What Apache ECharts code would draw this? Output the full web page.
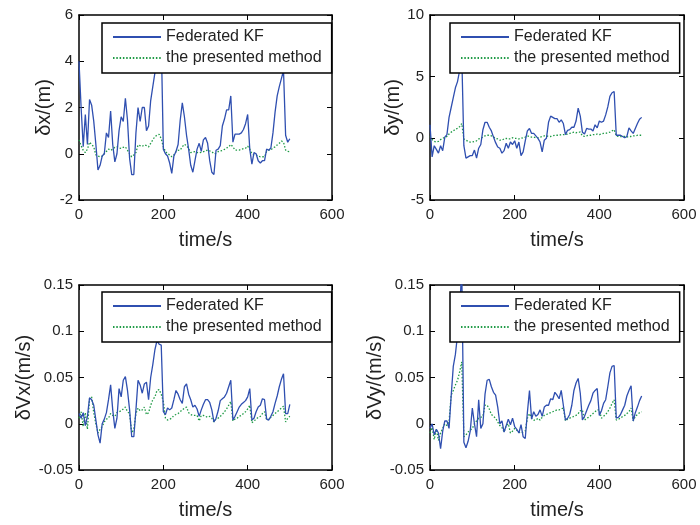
<!DOCTYPE html>
<html><head><meta charset="utf-8">
<script src="https://cdn.jsdelivr.net/npm/echarts@6/dist/echarts.min.js"></script>
<style>html,body{margin:0;padding:0;background:#fff}#c{width:700px;height:525px}</style>
</head><body><div id="c"></div><script>
const time = [0,5,10,15,20,25,30,35,40,45,50,55,60,65,70,75,80,85,90,95,100,105,110,115,120,125,130,135,140,145,150,155,160,165,170,175,180,185,190,195,200,205,210,215,220,225,230,235,240,245,250,255,260,265,270,275,280,285,290,295,300,305,310,315,320,325,330,335,340,345,350,355,360,365,370,375,380,385,390,395,400,405,410,415,420,425,430,435,440,445,450,455,460,465,470,475,480,485,490,495,500];

const seriesNames = ['Federated KF', 'the presented method'];
const xTicks = {min: 0, max: 600, interval: 200};
const yLabels = ['\u03b4x/(m)', '\u03b4y/(m)', '\u03b4Vx/(m/s)', '\u03b4Vy/(m/s)'];
const xLabel = 'time/s';

const dxFKF = [4.0,2.0,0.3,1.7,0.4,2.35,2.1,1.4,0.4,-0.7,
-0.5,-0.1,0.0,0.9,0.7,1.85,0.4,-0.35,0.0,1.0,
1.6,1.4,2.4,1.45,-0.2,-0.9,-0.9,0.9,2.0,1.4,
2.0,2.0,1.0,1.2,2.3,2.9,3.5,4.5,5.5,5.0,
0.2,0.0,-0.1,-0.4,-0.85,-0.1,0.1,0.4,1.45,2.2,
1.6,0.8,0.2,-0.5,-0.8,-0.3,0.2,0.45,0.1,0.6,
0.7,0.45,-0.3,-0.8,-0.9,0.15,0.2,0.35,1.2,1.5,
1.9,1.9,2.5,0.5,0.85,0.85,0.85,0.9,1.05,1.3,
1.7,0.2,-0.45,0.05,0.0,-0.3,-0.4,-0.3,-0.3,0.2,
0.15,0.25,0.9,1.8,2.5,2.9,3.25,3.6,0.8,0.5,
0.65];
const dxPM = [0.6,0.35,0.15,0.05,0.2,0.5,0.4,0.3,-0.05,-0.1,
-0.13,-0.1,0.0,0.1,0.2,0.15,0.2,0.28,0.3,0.25,
0.23,0.28,0.3,0.15,0.0,-0.13,-0.05,0.05,0.38,0.35,
0.32,0.38,0.35,0.3,0.45,0.6,0.74,0.8,0.84,0.65,
0.3,0.1,0.0,-0.05,-0.13,-0.05,0.09,0.15,0.16,0.3,
0.41,0.35,0.23,0.05,0.07,0.09,0.05,0.04,0.06,0.09,
0.12,0.16,0.12,0.09,0.0,0.02,0.09,0.12,0.14,0.19,
0.25,0.3,0.4,0.3,0.16,0.16,0.16,0.19,0.22,0.24,
0.33,0.2,0.0,-0.05,-0.06,-0.1,-0.13,-0.13,-0.13,0.1,
0.16,0.16,0.25,0.3,0.38,0.45,0.55,0.5,0.16,0.1,
0.09];
const dyFKF = [1.1,-1.5,-0.6,-0.9,-1.2,-0.6,-1.0,0.1,0.3,1.7,
2.5,3.3,4.1,4.6,5.5,6.8,-0.6,-1.6,-1.5,-1.4,
-1.4,-0.95,-1.6,-0.8,-0.5,0.7,1.3,1.3,0.9,0.6,
0.1,-0.35,-0.7,-0.8,-1.2,-1.0,-0.4,-0.8,-0.3,-0.5,
-0.2,-0.8,-0.3,-1.4,-1.1,-0.2,0.6,0.8,0.4,0.4,
0.2,0.0,-0.3,-1.1,-0.15,0.0,1.3,1.8,1.7,1.6,
1.6,1.3,1.5,1.2,0.3,0.65,0.7,0.9,0.9,1.4,
2.45,1.8,0.5,0.35,0.8,0.75,0.75,0.6,1.1,0.85,
1.4,1.3,1.4,1.9,2.55,3.4,3.7,3.8,0.25,0.25,
0.25,0.15,0.05,0.15,0.85,0.6,0.4,0.8,1.2,1.55,
1.7];
const dyPM = [0.15,-0.1,-0.25,-0.3,-0.25,-0.1,0.0,0.1,0.15,0.35,
0.5,0.6,0.75,0.8,0.95,1.2,-0.05,-0.15,-0.25,-0.3,
-0.3,-0.25,-0.2,-0.05,0.0,0.1,0.2,0.25,0.25,0.2,
0.1,0.0,-0.05,-0.15,-0.15,-0.05,0.0,-0.05,-0.05,0.05,
0.0,0.0,-0.05,0.0,0.05,0.1,0.2,0.15,0.1,0.1,
0.05,0.05,0.1,0.15,0.2,0.2,0.15,0.15,0.2,0.25,
0.25,0.25,0.3,0.3,0.3,0.35,0.4,0.45,0.5,0.45,
0.5,0.5,0.2,0.15,0.2,0.25,0.25,0.3,0.3,0.35,
0.3,0.35,0.4,0.4,0.45,0.5,0.6,0.7,0.2,0.15,
0.15,0.15,0.15,0.1,0.15,0.15,0.2,0.2,0.25,0.25,
0.25];
const dvxFKF = [0.011,0.006,0.012,-0.002,0.008,0.028,0.026,0.02,0.004,-0.012,
-0.021,0.0,0.005,0.012,0.026,0.042,0.015,-0.005,0.006,0.038,
0.029,0.047,0.051,0.036,0.015,-0.014,-0.014,0.015,0.047,0.042,
0.033,0.043,0.045,0.026,0.05,0.064,0.08,0.09,0.086,0.085,
0.013,0.01,0.017,0.015,0.017,0.026,0.036,0.032,0.026,0.022,
0.04,0.043,0.032,0.026,0.018,0.02,0.016,0.008,0.015,0.021,
0.026,0.026,0.023,0.015,0.002,0.006,0.014,0.025,0.027,0.029,
0.033,0.04,0.047,0.004,0.008,0.013,0.018,0.021,0.023,0.025,
0.029,0.038,0.004,0.006,0.013,0.018,0.02,0.027,0.026,0.005,
0.004,0.008,0.013,0.022,0.03,0.04,0.048,0.054,0.011,0.011,
0.021];
const dvxPM = [0.006,0.013,-0.003,0.012,-0.006,0.027,0.029,0.012,0.0,-0.01,
-0.006,-0.003,0.002,0.005,0.006,0.011,0.009,0.008,0.012,0.013,
0.014,0.016,0.018,0.013,0.011,-0.01,-0.006,0.011,0.017,0.014,
0.015,0.018,0.01,0.012,0.02,0.026,0.029,0.036,0.037,0.032,
0.024,0.006,0.004,0.005,0.006,0.009,0.01,0.011,0.013,0.015,
0.017,0.018,0.012,0.01,0.009,0.009,0.009,0.003,0.009,0.009,
0.008,0.007,0.008,0.006,0.002,0.005,0.006,0.008,0.01,0.013,
0.016,0.02,0.024,0.003,0.005,0.006,0.008,0.009,0.011,0.013,
0.016,0.02,0.001,0.003,0.005,0.007,0.008,0.011,0.013,0.004,
0.005,0.007,0.009,0.011,0.013,0.015,0.017,0.019,0.002,0.006,
0.008];
const dvyFKF = [-0.005,0.0,-0.012,-0.006,-0.01,-0.027,-0.008,0.003,0.003,-0.005,
0.03,0.062,0.075,0.096,0.12,0.17,-0.02,-0.026,-0.019,-0.008,
0.017,0.0,-0.014,0.026,-0.005,0.0,0.032,0.047,0.048,0.04,
0.034,0.031,0.018,0.0,0.003,-0.009,-0.002,0.005,-0.001,0.006,
-0.003,-0.006,-0.01,-0.001,-0.014,-0.016,0.012,0.036,0.005,0.013,
0.008,0.01,0.015,0.008,0.018,0.02,0.02,0.027,0.026,0.034,
0.031,0.027,0.036,0.02,0.004,0.006,0.01,0.02,0.036,0.044,
0.049,0.033,0.004,0.008,0.014,0.02,0.025,0.033,0.036,0.038,
0.009,0.014,0.022,0.026,0.04,0.055,0.062,0.063,0.006,0.007,
0.01,0.015,0.02,0.03,0.036,0.041,0.003,0.012,0.018,0.025,
0.03];
const dvyPM = [-0.01,-0.004,-0.017,-0.006,-0.018,-0.01,-0.005,0.0,-0.002,0.002,
0.031,0.036,0.042,0.047,0.056,0.067,-0.014,-0.012,-0.009,-0.007,
-0.005,0.0,0.003,0.006,0.007,0.008,0.02,0.02,0.016,0.01,
0.008,0.006,0.002,-0.002,-0.004,-0.009,-0.002,0.0,-0.01,-0.008,
-0.005,-0.007,-0.009,-0.01,-0.009,-0.008,0.006,0.011,0.006,0.004,
0.004,0.006,0.004,0.007,0.009,0.01,0.011,0.012,0.013,0.014,
0.015,0.015,0.016,0.017,0.003,0.005,0.006,0.007,0.008,0.009,
0.011,0.014,0.015,0.004,0.006,0.007,0.009,0.011,0.013,0.015,
0.015,0.006,0.008,0.01,0.013,0.017,0.022,0.026,0.004,0.005,
0.006,0.008,0.009,0.011,0.013,0.017,0.003,0.008,0.01,0.012,
0.013];

const yRanges = [
  {min: -2, max: 6, interval: 2},
  {min: -5, max: 10, interval: 5},
  {min: -0.05, max: 0.15, interval: 0.05},
  {min: -0.05, max: 0.15, interval: 0.05}
];
const panels = [[dxFKF, dxPM], [dyFKF, dyPM], [dvxFKF, dvxPM], [dvyFKF, dvyPM]];

const FONT = '"Liberation Sans", Arial, Helvetica, sans-serif';
const TXT = '#222';
const BLUE = '#2f4fb0';
const GREEN = '#1e9a45';
const grids = [
  {left: 79, top: 15, width: 253, height: 185},
  {left: 430, top: 15, width: 254, height: 185},
  {left: 79, top: 285, width: 253, height: 185},
  {left: 430, top: 285, width: 254, height: 185}
];
const yNameGap = [25, 27, 45, 44];
const legendPos = [{left: 102, top: 23}, {left: 450, top: 23}, {left: 102, top: 292}, {left: 450, top: 292}];

const axLine = {show: true, onZero: false, lineStyle: {color: '#000', width: 1.5}};
const axTick = {show: true, inside: true, length: 5, lineStyle: {color: '#000', width: 1}};
const xAxes = [], yAxes = [], series = [], legends = [];
for (let i = 0; i < 4; i++) {
  xAxes.push({gridIndex: i, type: 'value', position: 'bottom', ...xTicks,
    axisLine: axLine, axisTick: axTick, splitLine: {show: false},
    axisLabel: {color: TXT, fontSize: 15, fontFamily: FONT, margin: 7},
    name: xLabel, nameLocation: 'middle', nameGap: 30,
    nameTextStyle: {color: TXT, fontSize: 20, fontFamily: FONT}});
  yAxes.push({gridIndex: i, type: 'value', position: 'left', ...yRanges[i],
    axisLine: axLine, axisTick: axTick, splitLine: {show: false},
    axisLabel: {color: TXT, fontSize: 15, fontFamily: FONT, margin: 6},
    name: yLabels[i], nameLocation: 'middle', nameGap: yNameGap[i],
    nameTextStyle: {color: TXT, fontSize: 20, fontFamily: FONT}});
}
for (let i = 0; i < 4; i++) {
  xAxes.push({gridIndex: i, type: 'value', position: 'top', ...xTicks,
    axisLine: axLine, axisTick: axTick, splitLine: {show: false}, axisLabel: {show: false}});
  yAxes.push({gridIndex: i, type: 'value', position: 'right', ...yRanges[i],
    axisLine: axLine, axisTick: axTick, splitLine: {show: false}, axisLabel: {show: false}});
}
for (let i = 0; i < 4; i++) {
  const [fkf, pm] = panels[i];
  series.push({type: 'line', name: seriesNames[0], xAxisIndex: i, yAxisIndex: i,
    data: time.map((t, k) => [t, fkf[k]]), symbol: 'none', showSymbol: false,
    lineStyle: {color: BLUE, width: 1.3}, itemStyle: {color: BLUE}, z: 3});
  series.push({type: 'line', name: seriesNames[1], xAxisIndex: i, yAxisIndex: i,
    data: time.map((t, k) => [t, pm[k]]), symbol: 'none', showSymbol: false,
    lineStyle: {color: GREEN, width: 1.3, type: [1.5, 1.8]}, itemStyle: {color: GREEN}, z: 2});
  legends.push({...legendPos[i], orient: 'vertical', data: seriesNames, selectedMode: false,
    itemWidth: 48, itemHeight: 14, itemGap: 5, padding: [6, 10, 7, 10],
    itemStyle: {opacity: 0, borderWidth: 0},
    borderColor: '#000', borderWidth: 1.5, backgroundColor: '#fff', z: 10,
    textStyle: {color: TXT, fontSize: 16, fontFamily: FONT}});
}

const chart = echarts.init(document.getElementById('c'), null, {renderer: 'canvas'});
chart.setOption({
  animation: false,
  backgroundColor: '#fff',
  grid: grids,
  xAxis: xAxes,
  yAxis: yAxes,
  legend: legends,
  series: series
});
</script></body></html>
